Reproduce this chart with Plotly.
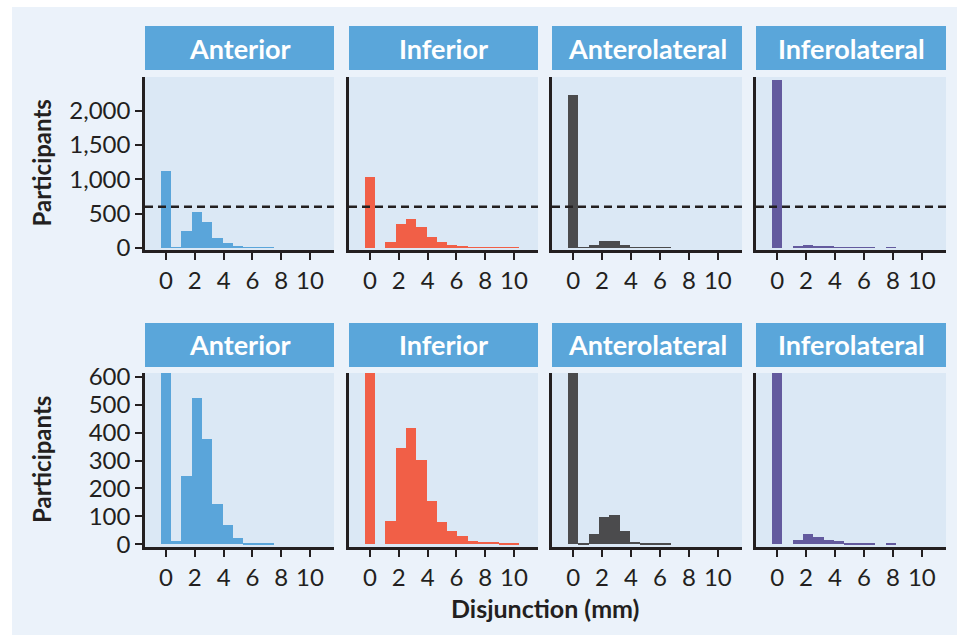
import plotly.graph_objects as go
from plotly.subplots import make_subplots

# ---------------- data ----------------
regions = ["Anterior", "Inferior", "Anterolateral", "Inferolateral"]
bar_colors = ["#5AA5DA", "#F15F47", "#4B4B4D", "#635A9E"]
bin_centers = [0.0, 0.714, 1.429, 2.143, 2.857, 3.571, 4.286, 5.0,
               5.714, 6.429, 7.143, 7.857, 8.571, 9.286, 10.0]
bin_width = 0.714

anterior      = [1120, 10, 245, 526, 378, 145, 69, 23, 5, 5, 2, 0, 0, 0, 0]
inferior      = [1035, 0, 84, 346, 418, 303, 156, 80, 48, 30, 12, 8, 8, 5, 2]
anterolateral = [2235, 3, 37, 98, 105, 48, 8, 5, 2, 2, 0, 0, 0, 0, 0]
inferolateral = [2440, 0, 16, 37, 26, 16, 12, 5, 2, 2, 0, 2, 0, 0, 0]
series = [anterior, inferior, anterolateral, inferolateral]

x_tickvals = [0, 2, 4, 6, 8, 10]
x_ticktext = ["0", "2", "4", "6", "8", "10"]
y1_tickvals = [0, 500, 1000, 1500, 2000]
y1_ticktext = ["0", "500", "1,000", "1,500", "2,000"]
y2_tickvals = [0, 100, 200, 300, 400, 500, 600]
y2_ticktext = ["0", "100", "200", "300", "400", "500", "600"]
cutoff = 600

# ---------------- layout geometry (pixels) ----------------
W, H = 957, 635
col_px = [(145, 334), (349, 538), (552, 742), (756, 946)]
row_px = [(77, 250), (373, 547)]        # (top, bottom) of plot areas
strip_px = [(26, 70), (323, 367)]       # (top, bottom) of strip headers
ink = "#231F20"
strip_col = "#5AA6DA"
panel_bg = "#DBE8F5"
outer_bg = "#EBF2FA"
FONT = "Lato"

def px_x(v):
    return v / W

def px_y(v):
    return (H - v) / H

fig = make_subplots(rows=2, cols=4)

shapes = []
annotations = []
# outer light background
shapes.append(dict(type="rect", xref="paper", yref="paper", layer="below",
                   x0=px_x(12), x1=1, y0=0, y1=px_y(7),
                   fillcolor=outer_bg, line_width=0))

for r in range(2):
    for c in range(4):
        idx = r * 4 + c + 1
        xa = "xaxis" if idx == 1 else f"xaxis{idx}"
        ya = "yaxis" if idx == 1 else f"yaxis{idx}"
        x0, x1 = col_px[c]
        t, b = row_px[r]
        # panel background
        shapes.append(dict(type="rect", xref="paper", yref="paper", layer="below",
                           x0=px_x(x0), x1=px_x(x1), y0=px_y(b), y1=px_y(t),
                           fillcolor=panel_bg, line_width=0))
        # strip header
        st, sb = strip_px[r]
        shapes.append(dict(type="rect", xref="paper", yref="paper", layer="below",
                           x0=px_x(x0), x1=px_x(x1), y0=px_y(sb), y1=px_y(st),
                           fillcolor=strip_col, line_width=0))
        annotations.append(dict(xref="paper", yref="paper",
                                x=px_x((x0 + x1) / 2), y=px_y((st + sb) / 2),
                                text=f"<b>{regions[c]}</b>", showarrow=False,
                                xanchor="center", yanchor="middle",
                                font=dict(family=FONT, size=27, color="white")))

        fig.add_trace(go.Bar(x=bin_centers, y=series[c], width=bin_width,
                             marker=dict(color=bar_colors[c], line=dict(width=0)),
                             showlegend=False, hoverinfo="x+y"),
                      row=r + 1, col=c + 1)

        fig.layout[xa].update(
            domain=[px_x(x0), px_x(x1)], range=[-1.46, 11.67],
            tickvals=x_tickvals, ticktext=x_ticktext, automargin=False,
            showline=True, linecolor=ink, linewidth=2.5,
            ticks="outside", ticklen=7, tickwidth=2, tickcolor=ink,
            showgrid=False, zeroline=False,
            tickfont=dict(family=FONT, size=24, color=ink), fixedrange=True)
        if r == 0:
            yr, tv, tt = [-30, 2490], y1_tickvals, y1_ticktext
        else:
            yr, tv, tt = [-10, 614], y2_tickvals, y2_ticktext
        yopts = dict(domain=[px_y(b), px_y(t)], range=yr, automargin=False,
                     showline=True, linecolor=ink, linewidth=2.5,
                     showgrid=False, zeroline=False, fixedrange=True)
        if c == 0:
            yopts.update(tickvals=tv, ticktext=tt, ticks="outside", ticklen=7,
                         tickwidth=2, tickcolor=ink,
                         tickfont=dict(family=FONT, size=24, color=ink))
        else:
            yopts.update(showticklabels=False, ticks="")
        fig.layout[ya].update(**yopts)

        # dashed cutoff line on top row
        if r == 0:
            xr = "x" if idx == 1 else f"x{idx}"
            yr_ = "y" if idx == 1 else f"y{idx}"
            shapes.append(dict(type="line", xref=f"{xr} domain", yref=yr_,
                               x0=0, x1=1, y0=cutoff, y1=cutoff,
                               line=dict(color=ink, width=2.5, dash="8px,5px"),
                               layer="above"))

# axis titles
for r in range(2):
    t, b = row_px[r]
    annotations.append(dict(xref="paper", yref="paper", x=px_x(41), y=px_y((t + b) / 2),
                            text="<b>Participants</b>", textangle=-90, showarrow=False,
                            xanchor="center", yanchor="middle",
                            font=dict(family=FONT, size=24, color=ink)))
annotations.append(dict(xref="paper", yref="paper", x=px_x(545), y=px_y(608),
                        text="<b>Disjunction (mm)</b>", showarrow=False,
                        xanchor="center", yanchor="middle",
                        font=dict(family=FONT, size=25, color=ink)))

fig.update_layout(width=W, height=H, margin=dict(l=0, r=0, t=0, b=0, pad=0),
                  autosize=False,
                  paper_bgcolor="white", plot_bgcolor="rgba(0,0,0,0)",
                  shapes=shapes, annotations=annotations, bargap=0,
                  font=dict(family=FONT, color=ink))

fig.write_html("out.html", config={"displayModeBar": False},
               post_script="document.body.style.margin='0';document.body.style.overflow='hidden';")
